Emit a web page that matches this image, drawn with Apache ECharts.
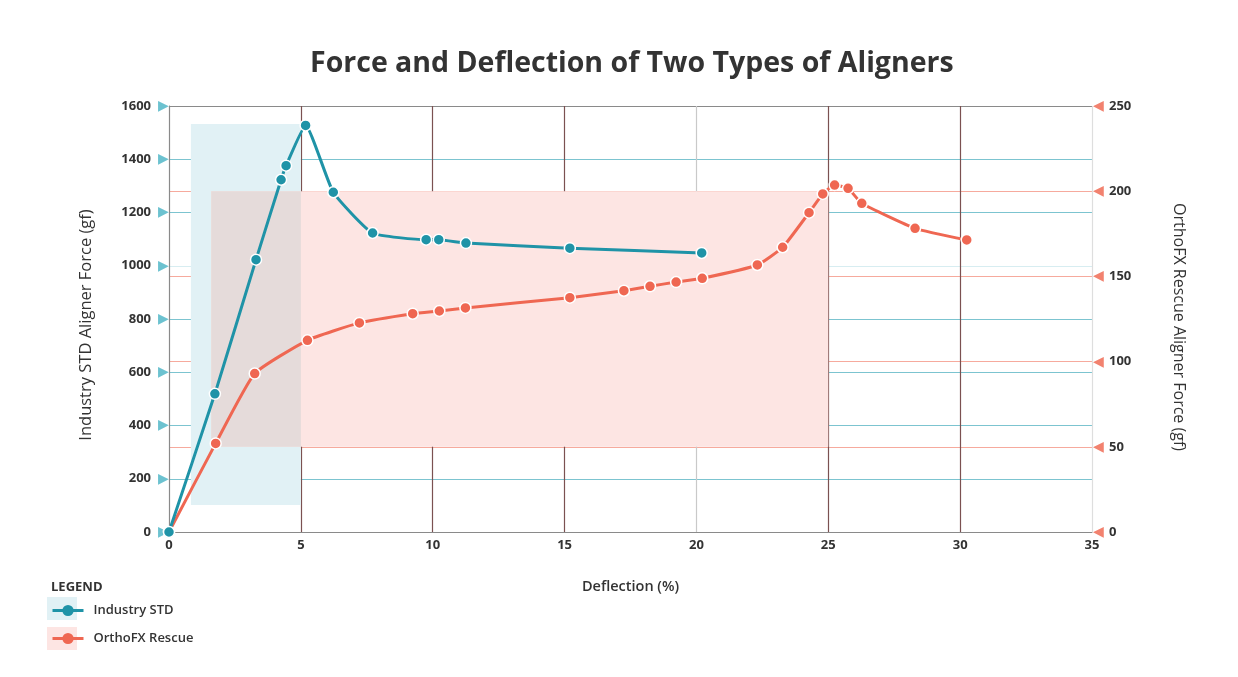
<!DOCTYPE html>
<html>
<head>
<meta charset="utf-8">
<script src="https://cdn.jsdelivr.net/npm/echarts@6/dist/echarts.min.js"></script>
<style>
html,body{margin:0;padding:0;background:#fff;}
#chart{width:1238px;height:677px;}
</style>
</head>
<body>
<div id="chart"></div>
<script>
// ---- data ----
var titleText = 'Force and Deflection of Two Types of Aligners';
var xName = 'Deflection (%)';
var leftName = 'Industry STD Aligner Force (gf)';
var rightName = 'OrthoFX Rescue Aligner Force (gf)';
var seriesNames = ['Industry STD', 'OrthoFX Rescue'];

var industryX = [0, 1.74, 3.3, 4.25, 4.44, 5.18, 6.23, 7.72, 9.75, 10.23, 11.26, 15.2, 20.2];
var industryY = [0, 519, 1023, 1323, 1376, 1527, 1276, 1123, 1098, 1098, 1085, 1066, 1048];

var rescueX = [0, 1.77, 3.25, 5.25, 7.22, 9.24, 10.25, 11.24, 15.2, 17.25, 18.24, 19.23, 20.22, 22.31, 23.27, 24.27, 24.79, 25.24, 25.75, 26.27, 28.29, 30.25];
var rescueY = [0, 52, 93, 112.5, 122.7, 128.1, 129.7, 131.5, 137.5, 141.6, 144.2, 146.7, 148.9, 156.7, 167.1, 187.4, 198.4, 203.6, 201.7, 192.9, 178.2, 171.4];

var industryBand = [[0.83, 1532], [5, 101]];   // left-axis units
var rescueBand = [[1.6, 50], [25, 200]];       // right-axis units

var xTicks = [0, 35, 5];
var leftTicks = [0, 1600, 200];
var rightTicks = [0, 250, 50];

// ---- styles ----
var TEAL = '#1f93a7';
var SALMON = '#ef6752';
var FONT = 'Open Sans';

function zip(a, b) { return a.map(function (v, i) { return [v, b[i]]; }); }

var overlapBand = [[rescueBand[0][0], rescueBand[0][1]], [industryBand[1][0], rescueBand[1][1]]];

var chart = echarts.init(document.getElementById('chart'));
chart.setOption({
  backgroundColor: '#fff',
  textStyle: { fontFamily: FONT },
  title: [{
    text: titleText, left: 305, top: 44,
    textStyle: { fontFamily: FONT, fontSize: 28.5, fontWeight: 'bold', color: '#333' }
  }, {
    text: 'LEGEND', left: 46, top: 576,
    textStyle: { fontFamily: FONT, fontSize: 13, fontWeight: 'bold', color: '#333' }
  }],
  legend: {
    orient: 'vertical', left: 46, top: 599, itemWidth: 31, itemHeight: 14, itemGap: 15,
    data: seriesNames,
    itemStyle: { borderWidth: 0 },
    lineStyle: { width: 3, type: 'solid' },
    textStyle: { fontFamily: FONT, fontSize: 13, fontWeight: 600, color: '#333', padding: [0, 0, 0, 5] }
  },
  graphic: [
    { type: 'rect', left: 47, top: 597, z: -1, shape: { width: 30, height: 23 }, style: { fill: '#e1f1f5' } },
    { type: 'rect', left: 47, top: 627, z: -1, shape: { width: 30, height: 23 }, style: { fill: '#fde5e3' } }
  ],
  grid: { left: 169, right: 146, top: 106, bottom: 145 },
  xAxis: {
    type: 'value', min: xTicks[0], max: xTicks[1], interval: xTicks[2],
    name: xName, nameLocation: 'middle', nameGap: 47,
    nameTextStyle: { fontFamily: FONT, fontSize: 14.5, fontWeight: 600, color: '#333' },
    axisLine: { show: true, lineStyle: { color: '#8a8a8a', width: 1 } },
    axisTick: { show: false },
    axisLabel: { margin: 7, fontFamily: FONT, fontSize: 13, fontWeight: 'bold', color: '#333' },
    splitLine: { show: true, lineStyle: { width: 1.2, color: ['#8a8a8a', '#7b5151', '#7b5151', '#7b5151', '#c9c9c9', '#7b5151', '#7b5151', '#dedede'] } }
  },
  yAxis: [{
    type: 'value', min: leftTicks[0], max: leftTicks[1], interval: leftTicks[2], position: 'left',
    name: leftName, nameLocation: 'middle', nameGap: 74,
    nameTextStyle: { fontFamily: FONT, fontSize: 16.5, fontWeight: 'normal', color: '#333', padding: [0, 12, 0, 0] },
    axisLine: { show: true, lineStyle: { color: '#8a8a8a' } },
    axisTick: { show: false },
    axisLabel: {
      margin: 0,
      formatter: function (v) { return '{v|' + v + '}{t|▶}'; },
      rich: {
        v: { fontFamily: FONT, fontSize: 13, fontWeight: 'bold', color: '#333', padding: [0, 7, 0, 0] },
        t: { fontSize: 14, color: '#6cc2d0' }
      }
    },
    splitLine: { show: true, lineStyle: { width: 1.2, color: ['#8a8a8a', '#7cc4d0', '#7cc4d0', '#7cc4d0', '#7cc4d0', '#d7edf1', '#7cc4d0', '#7cc4d0', '#8a8a8a'] } }
  }, {
    type: 'value', min: rightTicks[0], max: rightTicks[1], interval: rightTicks[2], position: 'right',
    name: rightName, nameLocation: 'middle', nameGap: 79, nameRotate: -90,
    nameTextStyle: { fontFamily: FONT, fontSize: 16, fontWeight: 'normal', color: '#333', padding: [0, 0, 0, 16] },
    axisLine: { show: false },
    axisTick: { show: false },
    axisLabel: {
      margin: 1,
      formatter: function (v) { return '{t|◀}{v|' + v + '}'; },
      rich: {
        v: { fontFamily: FONT, fontSize: 13, fontWeight: 'bold', color: '#333', padding: [0, 0, 0, 5] },
        t: { fontSize: 14, color: '#f2826f' }
      }
    },
    splitLine: { show: true, lineStyle: { width: 1.2, color: ['#8a8a8a', '#f6aa9d', '#f6aa9d', '#f6aa9d', '#f6aa9d', '#8a8a8a'] } }
  }],
  series: [{
    name: seriesNames[0], type: 'line', yAxisIndex: 0, z: 4,
    data: zip(industryX, industryY),
    smooth: 0.15,
    symbol: 'circle', symbolSize: 11,
    lineStyle: { color: TEAL, width: 3 },
    itemStyle: { color: TEAL, borderColor: '#fff', borderWidth: 1.5 },
    markArea: {
      silent: true, z: 1,
      itemStyle: { color: '#e1f1f5' },
      data: [[{ coord: industryBand[0] }, { coord: industryBand[1] }]]
    }
  }, {
    name: seriesNames[1], type: 'line', yAxisIndex: 1, z: 3,
    data: zip(rescueX, rescueY),
    smooth: 0.15,
    symbol: 'circle', symbolSize: 11,
    lineStyle: { color: SALMON, width: 3 },
    itemStyle: { color: SALMON, borderColor: '#fff', borderWidth: 1.5 },
    markArea: {
      silent: true, z: 1,
      data: [
        [{ coord: rescueBand[0], itemStyle: { color: '#fde5e3' } }, { coord: rescueBand[1] }],
        [{ coord: overlapBand[0], itemStyle: { color: '#e5dbda' } }, { coord: overlapBand[1] }]
      ]
    }
  }]
});
</script>
</body>
</html>
